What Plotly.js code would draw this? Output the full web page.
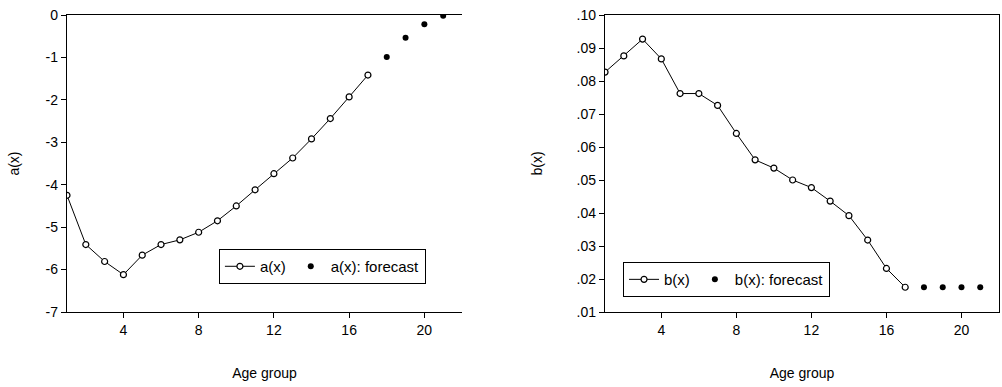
<!DOCTYPE html>
<html>
<head>
<meta charset="utf-8">
<script src="https://cdn.plot.ly/plotly-3.0.1.min.js"></script>
<style>html,body{margin:0;padding:0;background:#fff;}#chart{width:1002px;height:387px;}</style>
</head>
<body>
<div id="chart"></div>
<script>
// Age groups
const ageObs = [1,2,3,4,5,6,7,8,9,10,11,12,13,14,15,16,17];
const ageFc = [18,19,20,21];
// a(x)
const aObs = [-4.25,-5.41,-5.81,-6.12,-5.66,-5.41,-5.30,-5.12,-4.85,-4.50,-4.12,-3.74,-3.37,-2.92,-2.44,-1.93,-1.415];
const aFc = [-0.99,-0.535,-0.22,-0.02];
// b(x)
const bObs = [0.0827,0.0876,0.0927,0.0867,0.0762,0.0762,0.0726,0.0641,0.0561,0.0536,0.0500,0.0477,0.0436,0.0392,0.0318,0.0232,0.0175];
const bFc = [0.0175,0.0175,0.0175,0.0175];
// ticks
const xTicks = [4,8,12,16,20];
const aTickVals = [0,-1,-2,-3,-4,-5,-6,-7];
const aTickText = ['0','-1','-2','-3','-4','-5','-6','-7'];
const bTickVals = [0.10,0.09,0.08,0.07,0.06,0.05,0.04,0.03,0.02,0.01];
const bTickText = ['.10','.09','.08','.07','.06','.05','.04','.03','.02','.01'];

const FONT = 'Liberation Sans, Arial, sans-serif';
const obsStyle = {mode:'lines+markers', line:{color:'#000', width:1},
  marker:{symbol:'circle', size:6, color:'#fff', line:{color:'#000', width:1.2}}};
const fcStyle = {mode:'markers', marker:{symbol:'circle', size:6, color:'#000'}};

const traces = [
  Object.assign({x: ageObs, y: aObs, name:'a(x)', xaxis:'x', yaxis:'y', legend:'legend'}, obsStyle),
  Object.assign({x: ageFc, y: aFc, name:'a(x): forecast', xaxis:'x', yaxis:'y', legend:'legend'}, fcStyle),
  Object.assign({x: ageObs, y: bObs, name:'b(x)', xaxis:'x2', yaxis:'y2', legend:'legend2'}, obsStyle),
  Object.assign({x: ageFc, y: bFc, name:'b(x): forecast', xaxis:'x2', yaxis:'y2', legend:'legend2'}, fcStyle)
];

const xCommon = {range:[1,22], tickvals:xTicks, ticktext:xTicks.map(String), ticks:'outside', ticklen:5,
  tickcolor:'#000', showgrid:false, zeroline:false, showline:true, linecolor:'#000', linewidth:1.2,
  tickfont:{family:FONT, size:14, color:'#000'}, mirror:true,
  title:{text:'Age group', font:{family:FONT, size:14, color:'#000'}, standoff:31}};

const layout = {
  width:1002, height:387,
  margin:{l:67, r:3, t:15, b:75},
  paper_bgcolor:'#fff', plot_bgcolor:'#fff',
  font:{family:FONT, size:14, color:'#000'},
  showlegend:true,
  xaxis: Object.assign({}, xCommon, {domain:[0, 0.4238], anchor:'y'}),
  xaxis2: Object.assign({}, xCommon, {domain:[0.5773, 1], anchor:'y2'}),
  yaxis: {domain:[0,1], anchor:'x', range:[-7,0], tickvals:aTickVals, ticktext:aTickText,
    ticks:'outside', ticklen:5, tickcolor:'#000', showgrid:false, zeroline:false, showline:true,
    linecolor:'#000', linewidth:1.2, mirror:false, tickfont:{family:FONT, size:14, color:'#000'},
    title:{text:'a(x)', font:{family:FONT, size:14, color:'#000'}, standoff:22}},
  yaxis2: {domain:[0,1], anchor:'x2', range:[0.01,0.10], tickvals:bTickVals, ticktext:bTickText,
    ticks:'outside', ticklen:5, tickcolor:'#000', showgrid:false, zeroline:false, showline:true,
    linecolor:'#000', linewidth:1.2, mirror:true, tickfont:{family:FONT, size:14, color:'#000'},
    title:{text:'b(x)', font:{family:FONT, size:14, color:'#000'}, standoff:30}},
  legend: {orientation:'h', x:0.163, y:0.212, xanchor:'left', yanchor:'top',
    bgcolor:'#fff', bordercolor:'#000', borderwidth:1, font:{family:FONT, size:15, color:'#000'}},
  legend2: {orientation:'h', x:0.5966, y:0.168, xanchor:'left', yanchor:'top',
    bgcolor:'#fff', bordercolor:'#000', borderwidth:1, font:{family:FONT, size:15, color:'#000'}}
};

Plotly.newPlot('chart', traces, layout, {staticPlot:true, displayModeBar:false});
</script>
</body>
</html>
